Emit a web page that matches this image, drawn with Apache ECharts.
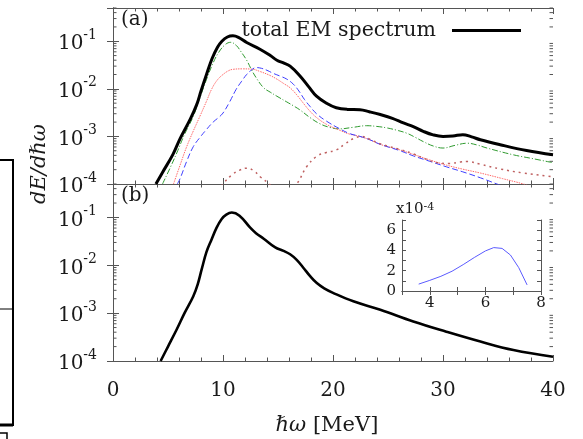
<!DOCTYPE html>
<html lang="en">
<head>
<meta charset="UTF-8">
<title>EM spectrum</title>
<script src="https://cdn.jsdelivr.net/npm/echarts@6/dist/echarts.min.js"></script>
</head>
<body style="margin:0">
<div id="main" style="width:583px;height:439px;"></div>
<script type="text/javascript">

// panel (a): [hbar omega (MeV), dE/dhw]
const totalA = [[3.9,1e-4],[4.5,1.75e-4],[5.45,4.2e-4],[6.1,9e-4],[7.0,2.25e-3],[7.6,4.6e-3],[8.0,9e-3],[8.5,0.02],[9.0,0.043],[9.5,0.075],[9.9,0.1],[10.4,0.123],[10.9,0.13],[11.4,0.121],[12.15,0.094],[13.36,0.068],[14.3,0.05],[14.9,0.04],[15.5,0.035],[16.1,0.03],[17.0,0.0186],[17.8,0.011],[18.5,7.0e-3],[19.4,5e-3],[20.3,4.0e-3],[21.3,3.7e-3],[22.45,3.65e-3],[23.3,3.3e-3],[24.3,2.88e-3],[25.4,2.4e-3],[26.4,1.92e-3],[27.3,1.6e-3],[28.2,1.28e-3],[29.1,1.08e-3],[30.0,1.0e-3],[30.9,1.02e-3],[31.8,1.09e-3],[32.6,0.98e-3],[33.4,8.5e-4],[35.2,6.7e-4],[37.6,5.06e-4],[40,4.1e-4]];
const greenA = [[4.5,1e-4],[5.2,2.2e-4],[5.8,4.5e-4],[6.5,1.1e-3],[7.3,2.65e-3],[7.9,6.5e-3],[8.5,0.0158],[9.1,0.035],[9.6,0.058],[10.2,0.085],[10.7,0.095],[11.2,0.082],[11.6,0.062],[12.15,0.04],[12.6,0.025],[13.06,0.0165],[13.7,0.0105],[14.3,8.5e-3],[14.9,7.0e-3],[15.8,5.3e-3],[16.4,4.4e-3],[17.0,3.6e-3],[17.9,2.5e-3],[18.8,1.85e-3],[19.7,1.55e-3],[20.6,1.44e-3],[21.8,1.55e-3],[23.06,1.68e-3],[24.0,1.62e-3],[24.9,1.51e-3],[25.8,1.35e-3],[26.7,1.17e-3],[27.5,9.5e-4],[28.2,7.8e-4],[29.1,6.3e-4],[30.0,5.7e-4],[31.1,6.5e-4],[32.2,7.2e-4],[33.1,6.6e-4],[34.0,5.7e-4],[36.4,4.1e-4],[38.2,3.4e-4],[40,2.8e-4]];
const redA = [[5.5,1e-4],[6.1,2.5e-4],[6.7,6.1e-4],[7.3,1.3e-3],[7.9,2.65e-3],[8.5,5.5e-3],[9.0,0.0102],[9.5,0.0155],[10.0,0.02],[10.5,0.024],[10.9,0.0257],[11.8,0.0263],[12.6,0.026],[13.4,0.023],[14.3,0.019],[14.9,0.016],[15.5,0.013],[16.1,0.0105],[16.7,7.5e-3],[17.3,5e-3],[17.9,3.4e-3],[18.5,2.5e-3],[19.4,1.8e-3],[20.6,1.35e-3],[21.5,1.12e-3],[22.45,1.0e-3],[23.4,8.4e-4],[24.3,6.8e-4],[26.1,5.2e-4],[27.3,4.2e-4],[28.8,3.2e-4],[30.3,2.5e-4],[31.8,2.05e-4],[33.4,1.7e-4],[35.4,1.3e-4],[37.3,1e-4],[38.5,8e-5]];
const blueA = [[5.85,1e-4],[6.1,1.3e-4],[6.7,3.0e-4],[7.3,6.1e-4],[7.9,9.5e-4],[8.5,1.4e-3],[9.1,2.0e-3],[9.6,2.5e-3],[10.0,3.1e-3],[10.6,5.3e-3],[11.2,9.8e-3],[11.7,0.0145],[12.15,0.02],[12.6,0.025],[13.0,0.028],[13.5,0.027],[14.0,0.0245],[14.6,0.021],[15.2,0.0185],[15.8,0.016],[16.4,0.0125],[16.9,9.0e-3],[17.4,6.0e-3],[17.9,4.3e-3],[18.5,3.0e-3],[19.4,2.1e-3],[20.6,1.45e-3],[21.5,1.15e-3],[22.45,1.0e-3],[23.4,8.4e-4],[24.3,6.8e-4],[26.1,5.0e-4],[27.3,3.9e-4],[28.8,3.0e-4],[30.3,2.3e-4],[31.8,1.8e-4],[33.4,1.35e-4],[34.9,1e-4],[36,8e-5]];
const brownA = [[9.6,7e-5],[10.0,1e-4],[10.8,1.55e-4],[11.5,1.95e-4],[12.15,2.15e-4],[12.8,1.9e-4],[13.4,1.4e-4],[14.2,1e-4],[15.4,5e-5],[16.7,1e-4],[17.6,2.3e-4],[18.5,3.8e-4],[19.4,4.6e-4],[20.3,5.2e-4],[21.1,7e-4],[21.85,9e-4],[22.6,1.0e-3],[23.4,8.6e-4],[24.3,7e-4],[26.1,5.3e-4],[27.3,4.3e-4],[28.5,3.3e-4],[29.5,2.8e-4],[30.6,2.7e-4],[31.6,2.9e-4],[32.2,2.96e-4],[33.4,2.6e-4],[35.2,2.07e-4],[37.3,1.7e-4],[39.4,1.48e-4],[40,1.42e-4]];

// panel (b)
const totalB = [[4.33,1e-4],[5.0,2.0e-4],[5.8,4.6e-4],[6.5,1.0e-3],[7.3,2.26e-3],[7.7,4.0e-3],[8.06,8.2e-3],[8.5,0.019],[8.97,0.035],[9.4,0.06],[9.88,0.093],[10.3,0.115],[10.8,0.127],[11.5,0.109],[12.45,0.062],[13.0,0.047],[13.7,0.036],[14.75,0.0236],[15.5,0.02],[16.1,0.017],[16.7,0.013],[17.3,8.9e-3],[17.9,6e-3],[18.5,4.3e-3],[19.2,3.3e-3],[20.0,2.66e-3],[21.85,1.77e-3],[24.3,1.18e-3],[27.3,6.7e-4],[30.3,4.1e-4],[33.4,2.55e-4],[36.4,1.7e-4],[40,1.23e-4]];

// inset (x10^-4)
const insetB = [[3.6,0.68],[4.0,1.05],[4.4,1.45],[4.8,1.95],[5.2,2.6],[5.6,3.3],[6.0,3.95],[6.3,4.28],[6.6,4.2],[6.9,3.55],[7.2,2.3],[7.5,0.6]];

// minor tick values of the log axes
const logMinor = [];
for (let n = -4; n <= -1; n++) {
  for (let k = 2; k <= 9; k++) {
    const v = k * Math.pow(10, n);
    if (v <= 0.5) logMinor.push(v);
  }
}

const FONT = 'DejaVu Serif';
const AX = '#555';

const myChart = echarts.init(document.getElementById('main'));

function powLabel(v) {
  const l = Math.log10(v);
  const e = Math.round(l);
  if (Math.abs(l - e) > 1e-6) return '';
  return '{b|10}{s|' + e + '}';
}

function xAx(grid, pos, labels, extra) {
  return Object.assign({
    type: 'value', gridIndex: grid, position: pos, min: 0, max: 40, interval: 10,
    axisLine: {show: true, lineStyle: {color: AX, width: 1}},
    axisTick: {show: true, inside: true, length: 6, lineStyle: {color: AX}},
    minorTick: {show: true, splitNumber: 5, length: 3.5, lineStyle: {color: AX}},
    splitLine: {show: false},
    axisLabel: {show: labels, fontFamily: FONT, fontSize: 20, color: '#1a1a1a', margin: 20}
  }, extra || {});
}

function yAx(grid, pos, labels) {
  return {
    type: 'log', logBase: 10, gridIndex: grid, position: pos, min: 1e-4, max: 0.5,
    axisLine: {show: true, lineStyle: {color: AX, width: 1}},
    axisTick: {show: true, inside: true, length: 6, lineStyle: {color: AX}},
    splitLine: {show: false},
    axisLabel: {
      show: labels, margin: 16, formatter: powLabel, color: '#1a1a1a',
      rich: {
        b: {fontFamily: FONT, fontSize: 20, lineHeight: 26, verticalAlign: 'bottom', color: '#1a1a1a'},
        s: {fontFamily: FONT, fontSize: 14, lineHeight: 16, verticalAlign: 'top', color: '#1a1a1a'}
      }
    }
  };
}

function insetAx(dim, pos, labels, extra) {
  const a = {
    type: 'value', gridIndex: 2, position: pos, interval: 1,
    axisLine: {show: true, lineStyle: {color: AX, width: 1}},
    axisTick: {show: true, inside: true, length: 4, lineStyle: {color: AX}},
    splitLine: {show: false},
    axisLabel: {
      show: labels, fontFamily: FONT, fontSize: 15, color: '#1a1a1a', margin: dim === 'x' ? 5 : 6,
      formatter: function (v) { return v % 2 === 0 ? String(v) : ''; }
    }
  };
  if (dim === 'x') { a.min = 3; a.max = 8; } else { a.min = 0; a.max = 7; }
  return Object.assign(a, extra || {});
}

const line = (name, data, color, width, type, xi, yi, smooth) => ({
  name: name, type: 'line', data: data, xAxisIndex: xi, yAxisIndex: yi,
  smooth: smooth, symbol: 'none', silent: true, z: width > 2 ? 5 : 3,
  itemStyle: {color: color},
  lineStyle: {color: color, width: width, type: type}
});

const graphics = [
  {type: 'text', left: 121, top: 10, style: {text: '(a)', font: '20px "DejaVu Serif"', fill: '#1a1a1a'}},
  {type: 'text', left: 121, top: 186, style: {text: '(b)', font: '20px "DejaVu Serif"', fill: '#1a1a1a'}},
  {type: 'text', x: 40, y: 164, rotation: Math.PI / 2,
    style: {text: 'dE/dℏω', font: 'italic 21px "DejaVu Serif"', fill: '#1a1a1a', align: 'center', verticalAlign: 'middle'}},
  {type: 'rect', shape: {x: -5, y: 160, width: 18, height: 265}, style: {fill: 'none', stroke: '#000', lineWidth: 2}},
  {type: 'line', shape: {x1: 0, y1: 309, x2: 13, y2: 309}, style: {stroke: '#000', lineWidth: 1}},
  {type: 'line', shape: {x1: 0, y1: 425, x2: 13, y2: 425}, style: {stroke: '#000', lineWidth: 3}},
  {type: 'rect', shape: {x: -5, y: 433, width: 12, height: 20}, style: {fill: 'none', stroke: '#000', lineWidth: 1.5}}
];

const option = {
  animation: false,
  grid: [
    {left: 113, top: 8, width: 440, height: 176},
    {left: 113, top: 184, width: 440, height: 177},
    {left: 402, top: 220, width: 139, height: 71}
  ],
  legend: {
    data: ['total EM spectrum'], right: 57, top: 15, align: 'right',
    icon: 'rect', itemWidth: 69, itemHeight: 3,
    textStyle: {fontFamily: FONT, fontSize: 20.5, color: '#1a1a1a', padding: [0, 11, 0, 0]}
  },
  xAxis: [
    xAx(0, 'bottom', false),
    xAx(0, 'top', false),
    xAx(1, 'bottom', true, {
      name: '{i|ℏω} [MeV]', nameLocation: 'middle', nameGap: 54,
      nameTextStyle: {fontFamily: FONT, fontSize: 21, color: '#1a1a1a', padding: [0, 12, 0, 0],
        rich: {i: {fontFamily: FONT, fontStyle: 'italic', fontSize: 21, color: '#1a1a1a'}}}
    }),
    xAx(1, 'top', false),
    insetAx('x', 'bottom', true),
    insetAx('x', 'top', false)
  ],
  yAxis: [
    yAx(0, 'left', true),
    yAx(0, 'right', false),
    yAx(1, 'left', true),
    yAx(1, 'right', false),
    insetAx('y', 'left', true, {
      name: 'x10{s|-4}', nameLocation: 'end', nameGap: 3,
      nameTextStyle: {fontFamily: FONT, fontSize: 15, color: '#1a1a1a', align: 'left', padding: [0, 0, 0, -6],
        rich: {s: {fontFamily: FONT, fontSize: 11, verticalAlign: 'top', color: '#1a1a1a'}}}
    }),
    insetAx('y', 'right', false)
  ],
  graphic: graphics,
  series: [
    line('green', greenA, '#2f9a2f', 1, [6, 2, 1, 2], 0, 0, 0.4),
    line('red', redA, '#ff6a6a', 1, [1.5, 1], 0, 0, 0.4),
    line('blue', blueA, '#3d3dff', 1, [6, 3], 0, 0, 0.4),
    line('brown', brownA, '#bf6060', 1.5, [2, 4], 0, 0, 0.4),
    line('total EM spectrum', totalA, '#000', 3, 'solid', 0, 0, 0.4),
    line('totalB', totalB, '#000', 2.6, 'solid', 2, 2, 0.4),
    line('inset', insetB, '#5a5aff', 1, 'solid', 4, 4, false)
  ]
};
myChart.setOption(option);

// log-spaced minor ticks, placed through the axes' own scales
const tickMarks = [];
[[0, 1], [2, 3]].forEach(function (pair) {
  const leftIdx = pair[0], rightIdx = pair[1];
  logMinor.forEach(function (v) {
    const y = myChart.convertToPixel({yAxisIndex: leftIdx}, v);
    tickMarks.push({type: 'line', silent: true, shape: {x1: 113, y1: y, x2: 116.5, y2: y}, style: {stroke: AX, lineWidth: 1}});
    tickMarks.push({type: 'line', silent: true, shape: {x1: 549.5, y1: y, x2: 553, y2: y}, style: {stroke: AX, lineWidth: 1}});
  });
});
myChart.setOption({graphic: graphics.concat(tickMarks)});
</script>
</body>
</html>
